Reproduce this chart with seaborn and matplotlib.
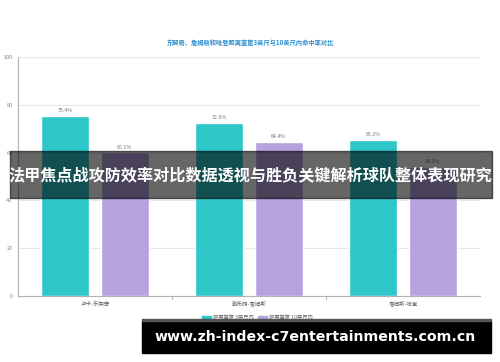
import matplotlib
matplotlib.use("Agg")
import matplotlib.pyplot as plt
import seaborn as sns
import pandas as pd
from matplotlib.patches import Rectangle

players = ["卢卡-东契奇", "勒布朗-詹姆斯", "詹姆斯-哈登"]
series = ["距离篮筐 3英尺内", "距离篮筐 10英尺内"]
within_3ft = [75.4, 72.6, 65.2]
within_10ft = [60.1, 64.4, 54.2]
yticks = [0, 20, 40, 60, 80, 100]
title = "东契奇、詹姆斯和哈登距离篮筐3英尺与10英尺内命中率对比"
banner = "法甲焦点战攻防效率对比数据透视与胜负关键解析球队整体表现研究"
watermark = "www.zh-index-c7entertainments.com.cn"
colors = ["#2ec7c9", "#b6a2de"]

sns.set_theme(style="white")
plt.rcParams['font.family'] = ['Noto Sans CJK SC', 'DejaVu Sans']

df = pd.DataFrame({
    "player": players * 2,
    "series": [series[0]] * 3 + [series[1]] * 3,
    "value": within_3ft + within_10ft,
})

fig = plt.figure(figsize=(5, 3.62), dpi=100)
ax = fig.add_axes([0.036, 0.182, 0.924, 0.6605])
sns.barplot(data=df, x="player", y="value", hue="series", palette=colors,
            width=0.77, gap=0.19, ax=ax, legend=False, saturation=1)

ax.set_ylim(0, 100)
ax.set_xlim(-0.5, 2.5)
ax.set_yticks(yticks)
ax.set_yticklabels([str(t) for t in yticks], fontsize=4, color="#888888")
ax.tick_params(axis="y", length=2, pad=2, color="#aab4bd")
ax.tick_params(axis="x", length=0, pad=3, labelsize=4, labelcolor="#666666")
ax.set_xlabel("")
ax.set_ylabel("")
ax.grid(axis="y", color="#e3e8ea", linewidth=0.8)
ax.set_axisbelow(True)
for s in ["top", "right"]:
    ax.spines[s].set_visible(False)
ax.spines["left"].set_color("#aab4bd")
ax.spines["bottom"].set_color("#aab4bd")
ax.spines["left"].set_linewidth(0.8)
ax.spines["bottom"].set_linewidth(0.8)
# category separator ticks
for xv in [0.5, 1.5]:
    ax.plot([xv, xv], [0, -1.2], color="#aab4bd", lw=0.8, clip_on=False)

for cont in ax.containers:
    for bar in cont:
        h = bar.get_height()
        ax.text(bar.get_x() + bar.get_width() / 2, h + 1.2, f"{h:.1f}%",
                ha="center", va="bottom", fontsize=3.8, color="#777777")

fig.text(0.5, 1 - 43 / 362, title, ha="center", va="center",
         fontsize=4.5, color="#2b8fce", fontweight="bold")

# legend
lx = 0.404
ly = 1 - 318 / 362
fig.patches.append(Rectangle((lx, ly - 0.006), 0.018, 0.012, transform=fig.transFigure,
                             color=colors[0], figure=fig))
fig.text(lx + 0.022, ly, series[0], fontsize=3.8, color="#666666", va="center")
fig.patches.append(Rectangle((lx + 0.112, ly - 0.006), 0.018, 0.012, transform=fig.transFigure,
                             color=colors[1], figure=fig))
fig.text(lx + 0.134, ly, series[1], fontsize=3.8, color="#666666", va="center")

# banner overlay
fig.patches.append(Rectangle((10 / 500, 1 - 198 / 362), 482 / 500, 47 / 362,
                             transform=fig.transFigure, color="black", alpha=0.6,
                             figure=fig, zorder=5))
fig.text(250 / 500, 1 - 175 / 362, banner, ha="center", va="center",
         fontsize=11.6, color="white", fontweight="bold", zorder=6)

# watermark box
fig.patches.append(Rectangle((142 / 500, 1 - 353 / 362), 349 / 500, 32 / 362,
                             transform=fig.transFigure, color="black",
                             figure=fig, zorder=5))
fig.patches.append(Rectangle((142 / 500, 1 - 321 / 362), 349 / 500, 2 / 362,
                             transform=fig.transFigure, color="#555555",
                             figure=fig, zorder=5))
fig.text(315 / 500, 1 - 337 / 362, watermark, ha="center", va="center",
         fontsize=10.2, color="white", fontweight="bold", zorder=6,
         family="DejaVu Sans")

fig.savefig("out.png", dpi=100)
